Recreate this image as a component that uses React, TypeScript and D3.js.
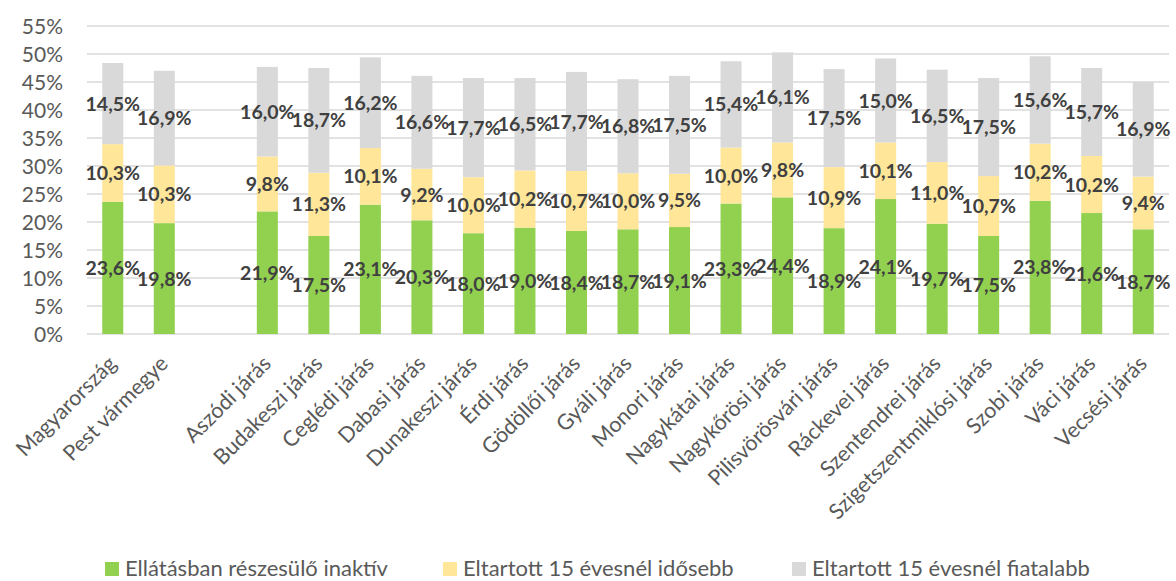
import React from "react";
import * as d3 from "d3";

const categories = [
  "Magyarország", "Pest vármegye", "",
  "Aszódi járás", "Budakeszi járás", "Ceglédi járás", "Dabasi járás", "Dunakeszi járás",
  "Érdi járás", "Gödöllői járás", "Gyáli járás", "Monori járás", "Nagykátai járás",
  "Nagykőrösi járás", "Pilisvörösvári járás", "Ráckevei járás", "Szentendrei járás",
  "Szigetszentmiklósi járás", "Szobi járás", "Váci járás", "Vecsési járás",
];
const inaktiv = [23.6, 19.8, null, 21.9, 17.5, 23.1, 20.3, 18.0, 19.0, 18.4, 18.7, 19.1, 23.3, 24.4, 18.9, 24.1, 19.7, 17.5, 23.8, 21.6, 18.7];
const idosebb = [10.3, 10.3, null, 9.8, 11.3, 10.1, 9.2, 10.0, 10.2, 10.7, 10.0, 9.5, 10.0, 9.8, 10.9, 10.1, 11.0, 10.7, 10.2, 10.2, 9.4];
const fiatalabb = [14.5, 16.9, null, 16.0, 18.7, 16.2, 16.6, 17.7, 16.5, 17.7, 16.8, 17.5, 15.4, 16.1, 17.5, 15.0, 16.5, 17.5, 15.6, 15.7, 16.9];
const seriesNames = ["Ellátásban részesülő inaktív", "Eltartott 15 évesnél idősebb", "Eltartott 15 évesnél fiatalabb"];
const seriesColors = ["#92D050", "#FFE699", "#D9D9D9"];
const yTicks = [0, 5, 10, 15, 20, 25, 30, 35, 40, 45, 50, 55];

const FONT = "Lato, 'Open Sans', sans-serif";

export default function App() {
  const W = 1176, H = 581;
  const left = 87, right = 1169, top = 26, bottom = 334;
  const x = d3.scaleBand<number>().domain(d3.range(categories.length)).range([left, right]).paddingInner(0.592).paddingOuter(0.296);
  const y = d3.scaleLinear().domain([0, 55]).range([bottom, top]);
  const seriesData = [inaktiv, idosebb, fiatalabb];
  const fmt = (v: number) => v.toFixed(1).replace(".", ",") + "%";

  const bw = x.bandwidth();
  const marks: React.ReactNode[] = [];
  const labels: React.ReactNode[] = [];
  categories.forEach((c, i) => {
    let base = 0;
    seriesData.forEach((s, k) => {
      const v = s[i];
      if (v == null) return;
      const y0 = y(base), y1 = y(base + v);
      marks.push(<rect key={`b${i}-${k}`} x={x(i)} y={y1} width={bw} height={y0 - y1} fill={seriesColors[k]} />);
      labels.push(
        <text key={`l${i}-${k}`} x={(x(i) as number) + bw / 2} y={(y0 + y1) / 2} dy="0.36em" textAnchor="middle"
          fontSize={19.5} fontWeight="bold" fill="#404040" fontFamily={FONT}>{fmt(v)}</text>
      );
      base += v;
    });
  });

  const legendX = [105, 443, 792];

  return (
    <svg width={W} height={H} style={{ position: "absolute", left: 0, top: 0, background: "#fff" }}>
      {yTicks.map((t) => (
        <g key={t}>
          <line x1={left} x2={right} y1={y(t)} y2={y(t)} stroke="#D9D9D9" strokeWidth={1.3} />
          <text x={63} y={y(t)} dy="0.36em" textAnchor="end" fontSize={21} fill="#595959" fontFamily={FONT}>{t}%</text>
        </g>
      ))}
      {marks}
      {labels}
      {categories.map((c, i) => c ? (
        <text key={`x${i}`} transform={`translate(${(x(i) as number) + bw / 2 + 5},${bottom + 31}) rotate(-45)`}
          textAnchor="end" fontSize={21.5} fill="#595959" fontFamily={FONT}>{c}</text>
      ) : null)}
      {seriesNames.map((n, k) => (
        <g key={n}>
          <rect x={legendX[k]} y={562} width={14} height={14} fill={seriesColors[k]} />
          <text x={legendX[k] + 20} y={576} fontSize={22} fill="#595959" fontFamily={FONT}>{n}</text>
        </g>
      ))}
    </svg>
  );
}
